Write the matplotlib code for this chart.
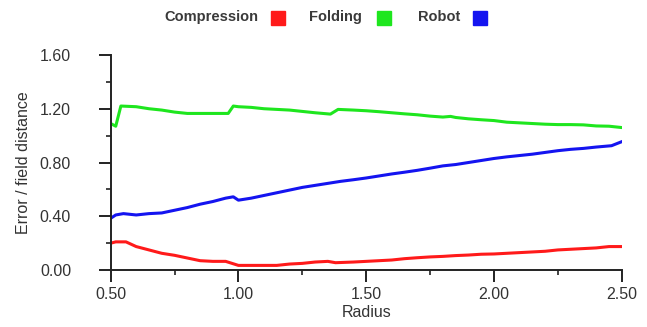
import matplotlib.pyplot as plt
from matplotlib.lines import Line2D
from matplotlib.ticker import MultipleLocator, FormatStrFormatter

plt.rcParams['font.family'] = ['Liberation Sans', 'DejaVu Sans']

# Folding (green)
fold_x = [0.50, 0.52, 0.54, 0.60, 0.65, 0.70, 0.75, 0.80, 0.85, 0.90, 0.96, 0.98,
          1.00, 1.05, 1.10, 1.15, 1.20, 1.25, 1.30, 1.36, 1.39, 1.45, 1.50, 1.55,
          1.60, 1.65, 1.70, 1.75, 1.80, 1.83, 1.85, 1.90, 1.95, 2.00, 2.05, 2.10,
          2.15, 2.20, 2.25, 2.30, 2.35, 2.40, 2.45, 2.50]
fold_y = [1.09, 1.07, 1.22, 1.215, 1.20, 1.19, 1.175, 1.165, 1.165, 1.165, 1.165, 1.22,
          1.215, 1.21, 1.20, 1.195, 1.19, 1.18, 1.17, 1.16, 1.195, 1.19, 1.185, 1.178,
          1.17, 1.162, 1.155, 1.145, 1.138, 1.143, 1.135, 1.125, 1.118, 1.112, 1.10, 1.095,
          1.09, 1.085, 1.082, 1.082, 1.08, 1.072, 1.07, 1.06]

# Robot (blue)
robot_x = [0.50, 0.52, 0.55, 0.60, 0.65, 0.70, 0.75, 0.80, 0.85, 0.90, 0.95, 0.98,
           1.00, 1.05, 1.10, 1.15, 1.20, 1.25, 1.30, 1.35, 1.40, 1.45, 1.50, 1.55,
           1.60, 1.65, 1.70, 1.75, 1.80, 1.85, 1.90, 1.95, 2.00, 2.05, 2.10, 2.15,
           2.20, 2.25, 2.30, 2.35, 2.40, 2.46, 2.48, 2.50]
robot_y = [0.385, 0.41, 0.42, 0.41, 0.42, 0.425, 0.445, 0.465, 0.49, 0.51, 0.535, 0.545,
           0.52, 0.535, 0.555, 0.575, 0.595, 0.615, 0.63, 0.645, 0.66, 0.672, 0.685, 0.70,
           0.715, 0.728, 0.742, 0.758, 0.775, 0.785, 0.80, 0.815, 0.83, 0.842, 0.852, 0.862,
           0.875, 0.888, 0.898, 0.905, 0.915, 0.925, 0.94, 0.955]

# Compression (red)
comp_x = [0.50, 0.52, 0.56, 0.60, 0.65, 0.70, 0.75, 0.80, 0.85, 0.90, 0.95, 1.00,
          1.05, 1.10, 1.15, 1.20, 1.25, 1.30, 1.35, 1.38, 1.45, 1.50, 1.55, 1.60,
          1.65, 1.70, 1.75, 1.80, 1.85, 1.90, 1.95, 2.00, 2.05, 2.10, 2.15, 2.20,
          2.25, 2.30, 2.35, 2.40, 2.45, 2.50]
comp_y = [0.20, 0.21, 0.21, 0.175, 0.15, 0.125, 0.11, 0.09, 0.07, 0.065, 0.065, 0.035,
          0.035, 0.035, 0.035, 0.045, 0.05, 0.06, 0.065, 0.055, 0.06, 0.065, 0.07, 0.075,
          0.085, 0.092, 0.098, 0.102, 0.108, 0.112, 0.118, 0.12, 0.125, 0.13, 0.135, 0.14,
          0.15, 0.155, 0.16, 0.165, 0.175, 0.175]

names = ['Compression', 'Folding', 'Robot']
colors = ['#ff1a1a', '#1ee61e', '#1414f0']

fig = plt.figure(figsize=(6.47, 3.27), dpi=100)
ax = fig.add_axes([0.171, 0.174, 0.790, 0.658])

ax.plot(comp_x, comp_y, color=colors[0], lw=2.2)
ax.plot(fold_x, fold_y, color=colors[1], lw=2.2)
ax.plot(robot_x, robot_y, color=colors[2], lw=2.2)

ax.set_xlim(0.5, 2.5)
ax.set_ylim(0, 1.6)
ax.xaxis.set_major_locator(MultipleLocator(0.5))
ax.xaxis.set_minor_locator(MultipleLocator(0.25))
ax.yaxis.set_major_locator(MultipleLocator(0.4))
ax.yaxis.set_minor_locator(MultipleLocator(0.2))
ax.xaxis.set_major_formatter(FormatStrFormatter('%.2f'))
ax.yaxis.set_major_formatter(FormatStrFormatter('%.2f'))

for s in ['top', 'right']:
    ax.spines[s].set_visible(False)
for s in ['left', 'bottom']:
    ax.spines[s].set_linewidth(1.4)
    ax.spines[s].set_color('#222222')

ax.tick_params(which='major', length=8.5, width=1.4, color='#222222',
               labelsize=11.5, labelcolor='#333333')
ax.tick_params(which='minor', length=3.5, width=1.2, color='#222222')
ax.tick_params(axis='y', which='major', pad=20)
ax.tick_params(axis='x', which='major', pad=4)

ax.set_xlabel('Radius', fontsize=11.5, color='#333333', labelpad=2)
ax.set_ylabel('Error / field distance', fontsize=11.5, color='#333333')
ax.yaxis.set_label_coords(-0.155, 0.5)

# legend: label then square marker
text_right = [258, 362, 460]
mark_x = [278, 384, 480]
for name, c, tr, mx in zip(names, colors, text_right, mark_x):
    fig.text(tr / 647, 1 - 17 / 327, name, ha='right', va='center',
             fontsize=10.5, fontweight='bold', color='#3a3a3a')
    fig.add_artist(Line2D([mx / 647], [1 - 18 / 327], marker='s', markersize=9.5,
                          color=c, markeredgecolor=c, linestyle='none'))

fig.savefig('out.png', dpi=100)
